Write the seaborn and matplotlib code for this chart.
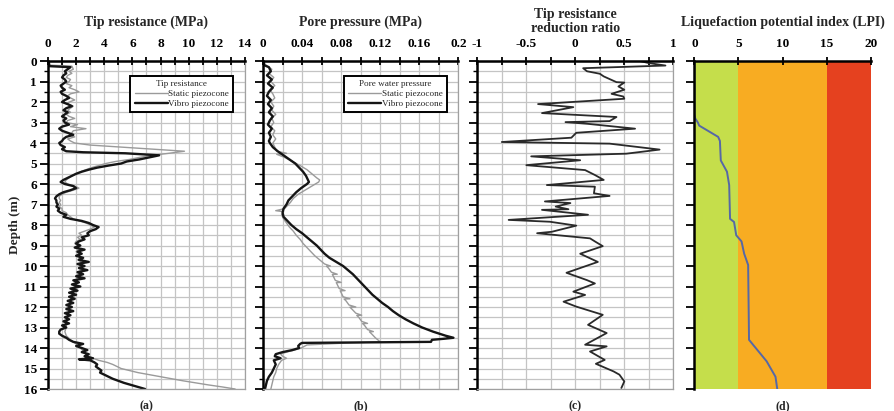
import numpy as np
import pandas as pd
import matplotlib
matplotlib.use("Agg")
import matplotlib.pyplot as plt
from matplotlib.ticker import MultipleLocator
import seaborn as sns

# --- data ----------------------------------------------------------------
# (a) tip resistance, static piezocone (grey)
qs_depth = [0.0, 0.2, 0.25, 0.4, 0.5, 0.6, 0.7, 0.8, 0.9, 1.0, 1.1, 1.2, 1.3, 1.4, 1.5, 1.6, 1.7, 1.8,
            1.9, 2.0, 2.1, 2.2, 2.3, 2.4, 2.5, 2.6, 2.7, 2.8, 2.9, 3.0, 3.1, 3.2, 3.3, 3.4, 3.5, 3.6,
            3.7, 3.8, 3.9, 4.0, 4.1, 4.2, 4.3, 4.4, 4.5, 4.6, 4.7, 4.8, 4.9, 5.0, 5.1, 5.2, 5.3, 5.4,
            5.5, 5.6, 5.7, 5.8, 5.9, 6.0, 6.1, 6.2, 6.3, 6.4, 6.5, 6.6, 6.7, 6.8, 6.9, 7.0, 7.1, 7.2,
            7.3, 7.4, 7.5, 7.6, 7.7, 7.8, 7.9, 8.0, 8.1, 8.2, 8.3, 8.4, 8.5, 8.6, 8.7, 8.8, 8.9, 9.0,
            9.1, 9.2, 9.3, 9.4, 9.5, 9.6, 9.7, 9.8, 9.9, 10.0, 10.1, 10.2, 10.3, 10.4, 10.5, 10.6,
            10.7, 10.8, 10.9, 11.0, 11.2, 11.4, 11.6, 11.8, 12.0, 12.2, 12.4, 12.6, 12.8, 13.0, 13.2,
            13.4, 13.6, 13.8, 14.0, 14.2, 14.4, 14.5, 14.6, 14.7, 14.8, 14.9, 15.0, 15.1, 15.2, 15.3,
            15.4, 15.5, 15.6, 15.7, 15.8, 15.9, 16.0]
qs_value = [0.0, 0.1, 1.7, 1.8, 1.5, 1.7, 1.4, 1.3, 1.6, 1.5, 1.3, 1.7, 1.5, 1.9, 2.2, 1.6, 1.4, 1.6,
            1.9, 1.5, 1.3, 1.8, 1.6, 1.4, 1.6, 1.3, 1.5, 1.9, 1.4, 1.3, 2.1, 1.6, 2.7, 1.8, 1.7, 1.5,
            1.9, 1.4, 1.6, 1.9, 3.0, 5.2, 7.4, 9.7, 8.6, 7.4, 6.5, 5.8, 4.8, 4.1, 3.6, 3.1, 2.7, 2.3,
            2.0, 1.7, 1.5, 1.3, 1.2, 1.4, 1.9, 2.2, 1.8, 1.3, 1.0, 0.8, 0.8, 0.9, 0.8, 0.9, 0.8, 1.0,
            1.0, 1.3, 1.4, 1.6, 1.8, 2.2, 2.7, 3.0, 3.3, 3.0, 2.6, 2.2, 2.4, 2.1, 2.3, 2.0, 1.9, 2.1,
            2.0, 2.2, 2.0, 2.2, 2.1, 2.3, 2.1, 2.4, 2.2, 2.3, 2.2, 2.4, 2.1, 2.2, 2.0, 2.2,
            1.9, 2.0, 1.8, 1.9, 1.7, 1.7, 1.6, 1.6, 1.5, 1.5, 1.4, 1.4, 1.3, 1.3, 1.2,
            1.3, 1.6, 2.0, 2.3, 2.6, 2.9, 3.2, 3.6, 4.2, 4.6, 4.9, 5.2, 5.8, 6.4, 7.2,
            8.0, 8.8, 9.6, 10.5, 11.4, 12.4, 13.3]

# (a) tip resistance, vibro piezocone (black)
qv_depth = [0.0, 0.25, 0.3, 0.4, 0.5, 0.6, 0.7, 0.8, 0.9, 1.0, 1.1, 1.2, 1.3, 1.4, 1.5, 1.6, 1.7, 1.8,
            1.9, 2.0, 2.1, 2.2, 2.3, 2.4, 2.5, 2.6, 2.7, 2.8, 2.9, 3.0, 3.1, 3.2, 3.3, 3.4, 3.5, 3.6,
            3.7, 3.8, 3.9, 4.0, 4.1, 4.2, 4.3, 4.4, 4.45, 4.5, 4.6, 4.7, 4.8, 4.9, 5.0, 5.1, 5.2, 5.3,
            5.4, 5.5, 5.6, 5.7, 5.8, 5.9, 6.0, 6.1, 6.2, 6.3, 6.4, 6.5, 6.6, 6.7, 6.8, 6.9, 7.0, 7.1,
            7.2, 7.3, 7.4, 7.5, 7.6, 7.7, 7.8, 7.9, 8.0, 8.1, 8.2, 8.3, 8.4, 8.5, 8.6, 8.7, 8.8, 8.9,
            9.0, 9.1, 9.2, 9.3, 9.4, 9.5, 9.6, 9.7, 9.8, 9.9, 10.0, 10.1, 10.2, 10.3, 10.4, 10.5,
            10.6, 10.7, 10.8, 10.9, 11.0, 11.1, 11.2, 11.3, 11.4, 11.5, 11.6, 11.7, 11.8, 11.9, 12.0,
            12.1, 12.2, 12.3, 12.4, 12.5, 12.6, 12.7, 12.8, 12.9, 13.0, 13.1, 13.2, 13.3, 13.4, 13.5,
            13.6, 13.7, 13.8, 13.9, 14.0, 14.1, 14.2, 14.3, 14.4, 14.5, 14.55, 14.6, 14.7, 14.8, 14.9,
            15.0, 15.1, 15.2, 15.3, 15.4, 15.5, 15.6, 15.7, 15.8, 15.9, 16.0]
qv_value = [0.05, 0.1, 1.6, 1.4, 1.2, 1.3, 1.1, 1.0, 1.2, 1.3, 1.1, 0.9, 1.0, 1.2, 0.9, 1.0, 1.3, 1.5,
            1.2, 1.0, 1.4, 1.7, 1.3, 1.1, 1.4, 1.2, 1.0, 1.3, 1.1, 1.2, 1.5, 1.0, 0.8, 1.0, 1.4, 1.8,
            1.3, 1.1, 1.0, 0.8, 0.9, 1.2, 1.0, 1.3, 2.5, 5.5, 7.9, 7.2, 6.5, 5.6, 5.2, 4.3, 3.5, 2.9,
            2.4, 2.0, 1.7, 1.4, 1.1, 0.9, 1.2, 1.8, 2.0, 1.6, 1.1, 0.8, 0.6, 0.5, 0.6, 0.6, 0.7, 0.6,
            0.8, 0.7, 0.9, 1.3, 1.1, 1.6, 2.4, 2.9, 3.2, 3.6, 3.4, 3.0, 2.8, 2.9, 2.4, 2.6, 2.2, 2.0,
            2.3, 1.9, 2.6, 2.1, 2.4, 2.0, 2.5, 2.2, 2.9, 2.1, 2.6, 2.2, 2.8, 2.1, 2.5, 2.0,
            2.6, 1.8, 2.2, 1.7, 2.3, 1.6, 2.1, 1.5, 2.0, 1.5, 1.9, 1.4, 1.8, 1.3, 1.7,
            1.3, 1.8, 1.2, 1.6, 1.2, 1.5, 1.1, 1.5, 1.0, 1.3, 0.9, 0.8, 0.8, 1.0, 1.3,
            1.5, 1.8, 2.5, 2.0, 2.4, 2.8, 2.4, 2.9, 2.6, 3.2, 2.2, 3.0, 3.3, 3.5, 3.4,
            3.6, 3.8, 3.7, 4.0, 4.3, 4.6, 5.0, 5.4, 5.9, 6.4, 6.9]

# (b) pore pressure, static piezocone (grey)
us_depth = [0.0, 0.2, 0.4, 0.6, 0.8, 1.0, 1.2, 1.4, 1.6, 1.8, 2.0, 2.2, 2.4, 2.6, 2.8, 3.0, 3.2, 3.4,
            3.6, 3.8, 4.0, 4.2, 4.4, 4.5, 4.55, 4.7, 4.9, 5.1, 5.3, 5.5, 5.7, 5.8, 5.9, 6.1, 6.3, 6.5,
            6.7, 6.9, 7.1, 7.2, 7.3, 7.35, 7.5, 7.7, 7.9, 8.1, 8.3, 8.5, 8.7, 8.9, 9.1, 9.3, 9.5, 9.7,
            9.9, 10.0, 10.01, 10.1, 10.3, 10.4, 10.41, 10.5, 10.7, 10.8, 10.81, 10.9, 11.1, 11.2, 11.21,
            11.3, 11.5, 11.6, 11.61, 11.7, 11.9, 12.0, 12.01, 12.1, 12.3, 12.4, 12.41, 12.5, 12.7, 12.8,
            12.81, 12.9, 13.1, 13.2, 13.21, 13.3, 13.5, 13.7, 13.75, 13.85, 14.0, 14.1, 14.2, 14.3,
            14.4, 14.5, 14.6, 14.8, 15.0, 15.2, 15.4, 15.6, 15.8, 16.0]
us_value = [0.0, 0.003, 0.009, 0.006, 0.011, 0.008, 0.012, 0.007, 0.010, 0.012, 0.008, 0.011, 0.009,
            0.013, 0.009, 0.011, 0.008, 0.012, 0.010, 0.013, 0.010, 0.012, 0.014, 0.024, 0.014, 0.022,
            0.030, 0.038, 0.045, 0.050, 0.055, 0.058, 0.057, 0.050, 0.043, 0.036, 0.031, 0.028, 0.024,
            0.022, 0.013, 0.021, 0.019, 0.021, 0.024, 0.027, 0.031, 0.034, 0.038, 0.041, 0.045, 0.049,
            0.053, 0.058, 0.063, 0.069, 0.065, 0.067, 0.070, 0.076, 0.071, 0.072, 0.074, 0.080, 0.075,
            0.076, 0.078, 0.084, 0.079, 0.080, 0.082, 0.089, 0.083, 0.085, 0.088, 0.095, 0.089, 0.091,
            0.095, 0.101, 0.096, 0.098, 0.101, 0.107, 0.102, 0.104, 0.107, 0.113, 0.109, 0.111, 0.115,
            0.120, 0.088, 0.045, 0.039, 0.032, 0.024, 0.018, 0.020, 0.024, 0.019, 0.016, 0.014, 0.013,
            0.011, 0.010, 0.009, 0.008]

# (b) pore pressure, vibro piezocone (black)
uv_depth = [0.0, 0.2, 0.3, 0.5, 0.7, 0.9, 1.1, 1.3, 1.5, 1.7, 1.9, 2.1, 2.3, 2.5, 2.7, 2.9, 3.1, 3.3,
            3.5, 3.7, 3.9, 4.0, 4.2, 4.4, 4.6, 4.8, 5.0, 5.2, 5.4, 5.6, 5.8, 5.9, 6.0, 6.2, 6.4, 6.6,
            6.8, 7.0, 7.2, 7.4, 7.6, 7.8, 8.0, 8.2, 8.4, 8.6, 8.8, 9.0, 9.2, 9.4, 9.6, 9.8, 10.0, 10.2,
            10.4, 10.6, 10.8, 11.0, 11.2, 11.4, 11.6, 11.8, 12.0, 12.2, 12.4, 12.6, 12.8, 13.0, 13.2,
            13.4, 13.5, 13.55, 13.6, 13.7, 13.75, 13.8, 13.9, 14.0, 14.1, 14.2, 14.3, 14.4, 14.5, 14.6,
            14.8, 15.0, 15.2, 15.4, 15.6, 15.8, 16.0]
uv_value = [0.0, 0.001, 0.006, 0.008, 0.004, 0.009, 0.005, 0.010, 0.006, 0.004, 0.008, 0.005, 0.009,
            0.006, 0.010, 0.007, 0.005, 0.009, 0.006, 0.008, 0.006, 0.007, 0.010, 0.015, 0.021, 0.027,
            0.033, 0.037, 0.041, 0.044, 0.046, 0.047, 0.045, 0.039, 0.034, 0.030, 0.026, 0.024, 0.021,
            0.020, 0.021, 0.025, 0.029, 0.034, 0.040, 0.045, 0.050, 0.055, 0.059, 0.063, 0.068, 0.075,
            0.082, 0.087, 0.092, 0.096, 0.100, 0.104, 0.108, 0.112, 0.117, 0.122, 0.128, 0.133, 0.139,
            0.146, 0.154, 0.163, 0.174, 0.187, 0.195, 0.185, 0.173, 0.172, 0.040, 0.038, 0.036, 0.037,
            0.030, 0.020, 0.013, 0.012, 0.018, 0.011, 0.013, 0.011, 0.009, 0.006, 0.004, 0.003, 0.002]

# (c) tip resistance reduction ratio
rr_depth = [0.0, 0.1, 0.22, 0.35, 0.5, 0.62, 0.75, 1.03, 1.05, 1.24, 1.4, 1.6, 1.73, 1.84, 2.1, 2.25,
            2.54, 2.73, 2.93, 2.98, 3.06, 3.3, 3.5, 3.74, 3.95, 4.03, 4.32, 4.52, 4.65, 4.84, 5.08,
            5.32, 5.56, 5.8, 6.05, 6.13, 6.45, 6.58, 6.85, 6.93, 7.1, 7.23, 7.26, 7.5, 7.75, 7.84,
            8.03, 8.33, 8.4, 8.65, 8.8, 9.03, 9.4, 9.8, 10.33, 10.69, 10.85, 11.25, 11.41, 11.74,
            11.98, 12.38, 12.87, 13.27, 13.84, 13.92, 14.17, 14.58, 14.77, 15.14, 15.3, 15.63, 15.95]
rr_value = [0.66, 0.75, 0.92, 0.08, 0.12, 0.25, 0.29, 0.42, 0.50, 0.44, 0.50, 0.37, 0.49, 0.50, -0.38,
            -0.02, -0.34, 0.42, 0.35, -0.10, 0.12, 0.61, 0.01, -0.04, -0.75, 0.35, 0.86, 0.52, -0.45,
            0.05, -0.50, 0.10, 0.20, 0.29, -0.29, 0.20, 0.19, 0.35, -0.31, -0.05, -0.20, -0.07, -0.34,
            0.13, -0.68, -0.26, 0.01, -0.24, -0.39, 0.15, 0.20, 0.28, 0.05, 0.23, -0.09, 0.12, 0.20,
            -0.02, 0.10, -0.12, 0.01, 0.28, 0.13, 0.32, 0.10, 0.32, 0.15, 0.30, 0.21, 0.39, 0.45,
            0.50, 0.47]

# (d) liquefaction potential index
lpi_depth = [0.0, 2.6, 2.8, 3.0, 3.15, 3.7, 3.9, 4.85, 5.4, 6.05, 7.7, 7.85, 8.5, 8.8, 9.4, 9.95,
             13.6, 14.65, 15.4, 16.0]
lpi_value = [0.0, 0.0, 0.1, 0.4, 0.55, 2.7, 2.9, 3.0, 3.7, 3.95, 4.05, 4.5, 4.75, 5.35, 5.65, 6.1,
             6.2, 8.2, 9.2, 9.4]
lpi_bounds = [0, 5, 15, 20]
lpi_colors = ["#c5de4b", "#f8ac22", "#e5411f"]

panel_titles = ["Tip resistance (MPa)", "Pore pressure (MPa)",
                "Tip resistance\nreduction ratio", "Liquefaction potential index (LPI)"]
panel_tags = ["(a)", "(b)", "(c)", "(d)"]

# --- figure -----------------------------------------------------------------
sns.set_theme(style="white")
plt.rcParams["font.family"] = ["Liberation Serif", "DejaVu Serif"]
plt.rcParams["font.weight"] = "bold"
plt.rcParams["axes.unicode_minus"] = False

fig = plt.figure(figsize=(8.95, 4.11), dpi=100)
bottom, height = 0.0535, 0.798
ax_a = fig.add_axes([0.0536, bottom, 0.2201, height])
ax_b = fig.add_axes([0.2939, bottom, 0.2182, height])
ax_c = fig.add_axes([0.5333, bottom, 0.2190, height])
ax_d = fig.add_axes([0.7758, bottom, 0.1971, height])
axes = [ax_a, ax_b, ax_c, ax_d]

grey, black = "#9a9a9a", "#151515"

sns.lineplot(x=qs_value, y=qs_depth, ax=ax_a, orient="y", sort=False, estimator=None,
             color=grey, lw=1.0, label="Static piezocone")
sns.lineplot(x=qv_value, y=qv_depth, ax=ax_a, orient="y", sort=False, estimator=None,
             color=black, lw=1.7, label="Vibro piezocone")

sns.lineplot(x=us_value, y=us_depth, ax=ax_b, orient="y", sort=False, estimator=None,
             color=grey, lw=1.0, label="Static piezocone")
sns.lineplot(x=uv_value, y=uv_depth, ax=ax_b, orient="y", sort=False, estimator=None,
             color=black, lw=1.7, label="Vibro piezocone")

sns.lineplot(x=rr_value, y=rr_depth, ax=ax_c, orient="y", sort=False, estimator=None,
             color="#2a2a2a", lw=1.3)

for lo, hi, col in zip(lpi_bounds[:-1], lpi_bounds[1:], lpi_colors):
    ax_d.axvspan(lo, hi, color=col, lw=0, zorder=0)
sns.lineplot(x=lpi_value, y=lpi_depth, ax=ax_d, orient="y", sort=False, estimator=None,
             color="#5668a6", lw=1.4)

x_setup = [((0, 14), 2, 1), ((0, 0.2), 0.04, 0.02), ((-1, 1), 0.5, 0.25), ((0, 20), 5, 5)]
title_pads = [9, 9, 4.5, 9]
for i, ax in enumerate(axes):
    (x0, x1), major, minor = x_setup[i]
    ax.set_xlim(x0, x1)
    ax.set_ylim(16, 0)
    ax.xaxis.tick_top()
    ax.xaxis.set_major_locator(MultipleLocator(major))
    ax.xaxis.set_minor_locator(MultipleLocator(minor))
    ax.yaxis.set_major_locator(MultipleLocator(1))
    if i < 3:
        ax.yaxis.set_minor_locator(MultipleLocator(0.5))
        ax.grid(which="both", color="#c4c4c4", lw=0.9)
    else:
        ax.grid(False)
    ax.set_axisbelow(True)
    ax.tick_params(axis="x", which="both", direction="inout", length=6, width=1.3,
                   colors="black", labelsize=9.5, pad=5, top=True, bottom=False)
    ax.tick_params(axis="y", which="major", direction="out", length=6, width=1.3,
                   colors="black", labelsize=9.5, left=True, pad=2)
    ax.tick_params(axis="y", which="minor", direction="out", length=3, width=1.0,
                   colors="black", left=True)
    ticks = ax.get_xticks()
    ax.set_xticks(ticks)
    ax.set_xticklabels([f"{round(t, 3):g}" for t in ticks])
    ax.set_xlim(x0, x1)
    if i > 0:
        ax.set_yticklabels([])
    ax.set_xlabel("")
    ax.set_ylabel("")
    for side in ["top", "left"]:
        ax.spines[side].set_color("black")
        ax.spines[side].set_linewidth(1.8)
    for side in ["right", "bottom"]:
        ax.spines[side].set_color("#a0a0a0")
        ax.spines[side].set_linewidth(0.9)
        ax.spines[side].set_visible(i < 3)
    ax.set_title(panel_titles[i], fontsize=10, fontweight="bold", pad=title_pads[i],
                 linespacing=1.05)
    ax.text(0.5, -0.035, panel_tags[i], transform=ax.transAxes, ha="center", va="top",
            fontsize=8.5, fontweight="bold")

ax_a.set_ylabel("Depth (m)", fontsize=9.5, fontweight="bold", labelpad=2)

for ax, ttl in [(ax_a, "Tip resistance"), (ax_b, "Pore water pressure")]:
    leg = ax.legend(title=ttl, loc="upper right", bbox_to_anchor=(0.965, 0.968),
                    fancybox=False, framealpha=1, edgecolor="black", fontsize=6.6,
                    title_fontsize=6.6, handlelength=3.6, borderpad=0.45, labelspacing=0.15,
                    handletextpad=0.1, alignment="center")
    leg.get_frame().set_linewidth(1.4)
    leg.get_title().set_fontweight("normal")
    for t in leg.get_texts():
        t.set_fontweight("normal")

fig.savefig("out.png", dpi=100)
